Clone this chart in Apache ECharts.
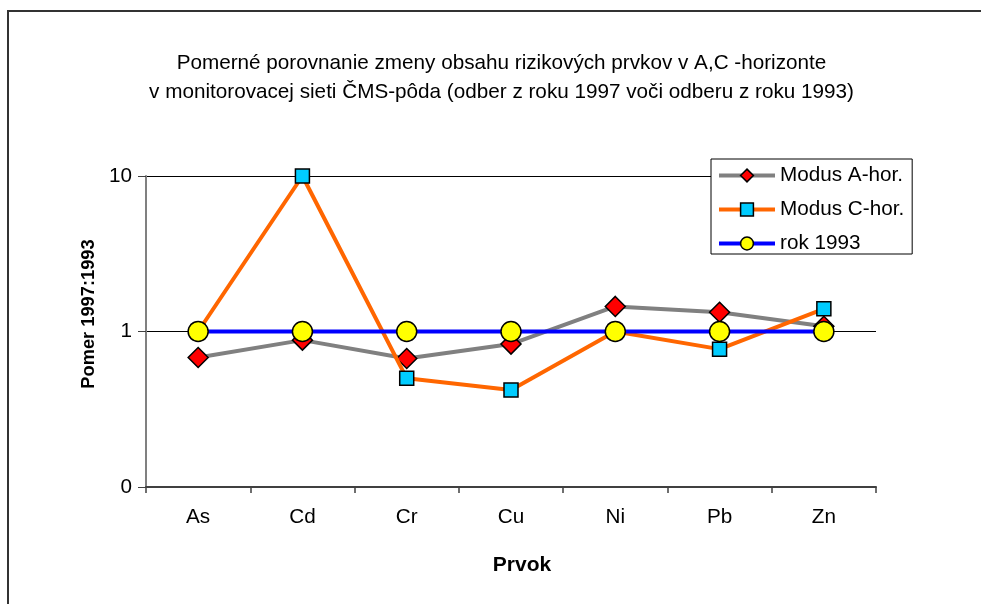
<!DOCTYPE html>
<html>
<head>
<meta charset="utf-8">
<script src="https://cdn.jsdelivr.net/npm/echarts@6/dist/echarts.min.js"></script>
<style>
html,body{margin:0;padding:0;background:#fff;}
#c{width:981px;height:604px;}
</style>
</head>
<body>
<div id="c"></div>
<script>
var categories = ['As', 'Cd', 'Cr', 'Cu', 'Ni', 'Pb', 'Zn'];
var modusA = [0.68, 0.88, 0.67, 0.83, 1.45, 1.33, 1.08];
var modusC = [1.0, 10, 0.5, 0.42, 1.0, 0.77, 1.4];
var rok1993 = [1, 1, 1, 1, 1, 1, 1];
var seriesNames = ['Modus A-hor.', 'Modus C-hor.', 'rok 1993'];
var yTickValues = [0.1, 1, 10];
var yTickLabels = ['0', '1', '10'];
var titleText = 'Pomerné porovnanie zmeny obsahu rizikových prvkov v A,C -horizonte\nv monitorovacej sieti ČMS-pôda (odber z roku 1997 voči odberu z roku 1993)';
var xName = 'Prvok';
var yName = 'Pomer 1997:1993';

var FONT = '"Liberation Sans", Arial, sans-serif';
var chart = echarts.init(document.getElementById('c'), null, {renderer: 'canvas'});

function yLabel(v) {
  for (var i = 0; i < yTickValues.length; i++) {
    if (Math.abs(Math.log10(v) - Math.log10(yTickValues[i])) < 1e-6) return yTickLabels[i];
  }
  return '';
}

var option = {
  backgroundColor: '#ffffff',
  animation: false,
  graphic: [{
    type: 'rect',
    shape: {x: 8, y: 11, width: 1100, height: 1000},
    style: {fill: 'none', stroke: '#333333', lineWidth: 2},
    silent: true,
    z: -1
  }, {
    type: 'text',
    x: 501.5,
    y: 49,
    silent: true,
    style: {
      text: titleText,
      fontFamily: FONT,
      fontSize: 20.7,
      lineHeight: 29,
      fill: '#000',
      align: 'center',
      verticalAlign: 'top'
    }
  }],
  legend: {
    orient: 'vertical',
    left: 711,
    top: 159,
    padding: [6, 8, 0, 6],
    itemGap: 13,
    itemWidth: 56,
    itemHeight: 16,
    borderColor: '#000',
    borderWidth: 1,
    backgroundColor: '#fff',
    lineStyle: {width: 4},
    itemStyle: {borderWidth: 1.5, borderColor: '#000'},
    textStyle: {fontFamily: FONT, fontSize: 20.7, color: '#000', lineHeight: 20},
    data: seriesNames
  },
  grid: {left: 146, right: 105, top: 176, bottom: 117, containLabel: false},
  xAxis: {
    type: 'category',
    data: categories,
    boundaryGap: true,
    name: xName,
    nameLocation: 'middle',
    nameGap: 68,
    nameTextStyle: {fontFamily: FONT, fontSize: 21, fontWeight: 'bold', color: '#000', padding: [0, 0, 0, 22]},
    axisLine: {lineStyle: {color: '#404040', width: 2}},
    axisTick: {show: true, length: 6, inside: false, alignWithLabel: false, lineStyle: {color: '#404040', width: 1.5}},
    axisLabel: {fontFamily: FONT, fontSize: 20.7, color: '#000', margin: 20},
    splitLine: {show: false}
  },
  yAxis: {
    type: 'log',
    logBase: 10,
    min: 0.1,
    max: 10,
    name: yName,
    nameLocation: 'middle',
    nameRotate: 90,
    nameGap: 45,
    nameTextStyle: {fontFamily: FONT, fontSize: 18.3, fontWeight: 'bold', color: '#000', padding: [0, 0, 0, 35]},
    axisLine: {show: true, lineStyle: {color: '#808080', width: 2}},
    axisTick: {show: true, length: 8, inside: false, lineStyle: {color: '#404040', width: 1}},
    axisLabel: {fontFamily: FONT, fontSize: 20.7, color: '#000', margin: 14, formatter: yLabel},
    splitLine: {show: true, lineStyle: {color: '#000', width: 1}},
    minorTick: {show: false}
  },
  series: [
    {
      name: seriesNames[0],
      type: 'line',
      data: modusA,
      symbol: 'diamond',
      symbolSize: 20,
      lineStyle: {color: '#808080', width: 4},
      itemStyle: {color: '#FF0000', borderColor: '#000', borderWidth: 1.5},
      z: 2
    },
    {
      name: seriesNames[1],
      type: 'line',
      data: modusC,
      symbol: 'rect',
      symbolSize: 14,
      lineStyle: {color: '#FF6600', width: 4},
      itemStyle: {color: '#00CCFF', borderColor: '#000', borderWidth: 1.5},
      z: 3
    },
    {
      name: seriesNames[2],
      type: 'line',
      data: rok1993,
      symbol: 'circle',
      symbolSize: 20,
      lineStyle: {color: '#0000FF', width: 4},
      itemStyle: {color: '#FFFF00', borderColor: '#000', borderWidth: 1.5},
      z: 4
    }
  ]
};
chart.setOption(option);
</script>
</body>
</html>
